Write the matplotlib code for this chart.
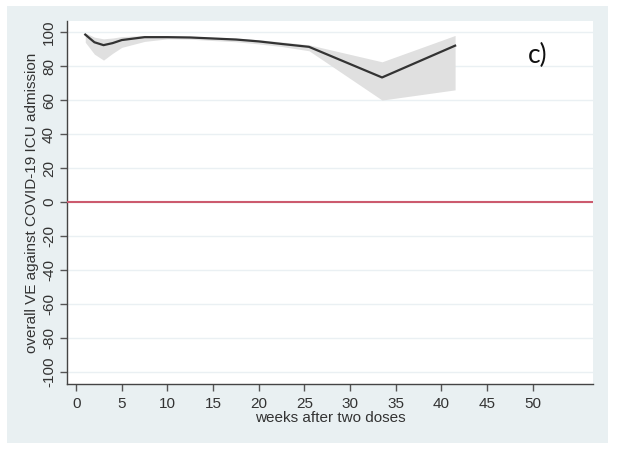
import matplotlib
matplotlib.use("Agg")
import matplotlib.pyplot as plt
from matplotlib.patches import Rectangle

plt.rcParams['font.family'] = ['Liberation Sans', 'DejaVu Sans']
plt.rcParams['axes.unicode_minus'] = False

weeks = [1, 2, 3, 4, 5, 7.5, 10, 12.5, 15, 17.5, 20, 22.5, 25.5, 33.5, 41.5]
ve = [98.5, 94.0, 92.3, 93.5, 95.3, 97.0, 97.0, 96.8, 96.2, 95.6, 94.5, 93.0, 91.3, 73.3, 92.0]
ve_lower = [94.0, 87.0, 83.5, 87.5, 91.0, 94.5, 96.0, 95.8, 95.0, 94.3, 93.0, 91.5, 89.0, 60.0, 66.0]
ve_upper = [99.5, 97.0, 96.0, 96.5, 97.3, 98.0, 97.8, 97.6, 97.0, 96.5, 95.5, 94.2, 92.5, 82.5, 98.0]
xticks = list(range(0, 55, 5))
yticks = list(range(-100, 101, 20))
panel_label = "c)"

W, H = 619, 451
fig = plt.figure(figsize=(W / 100, H / 100), dpi=100, facecolor='white')
fig.patches.append(Rectangle((7 / W, 1 - 443 / H), (608 - 7) / W, (443 - 6) / H,
                             transform=fig.transFigure, facecolor='#e9f0f2',
                             edgecolor='none', zorder=-10))

ax = fig.add_axes([67 / W, 1 - 384 / H, (593 - 67) / W, (384 - 21) / H])
ax.set_zorder(5)
ax.set_facecolor('white')
ax.set_xlim(-1.0, 56.6)
ax.set_ylim(-107, 106.5)

for y in yticks:
    ax.axhline(y, color='#eaf0f3', lw=1.0, zorder=1)

ax.fill_between(weeks, ve_lower, ve_upper, color='#e0e0e0', lw=0, zorder=2)
ax.plot(weeks, ve, color='#333333', lw=1.6, zorder=3)
ax.axhline(0, color='#cc5a6e', lw=1.5, zorder=4)

ax.set_xticks(xticks)
ax.set_yticks(yticks)
ax.set_yticklabels([str(v) for v in yticks], rotation=90, va='center')
ax.tick_params(axis='both', direction='out', length=5, width=1, color='#555555',
               labelsize=11, labelcolor='#333333')
ax.tick_params(axis='x', pad=4)
ax.tick_params(axis='y', pad=3)

for s in ['top', 'right']:
    ax.spines[s].set_visible(False)
for s in ['left', 'bottom']:
    ax.spines[s].set_color('#444444')
    ax.spines[s].set_linewidth(1.0)

ax.set_xlabel('weeks after two doses', fontsize=11, color='#333333', labelpad=0)
ax.set_ylabel('overall VE against COVID-19 ICU admission', fontsize=11, color='#333333', labelpad=2)

ax.text(50.5, 86.5, panel_label, fontsize=19, family=['Lato', 'DejaVu Sans'],
        ha='center', va='center', color='#111111')

fig.savefig('out.png', dpi=100, facecolor='white')
